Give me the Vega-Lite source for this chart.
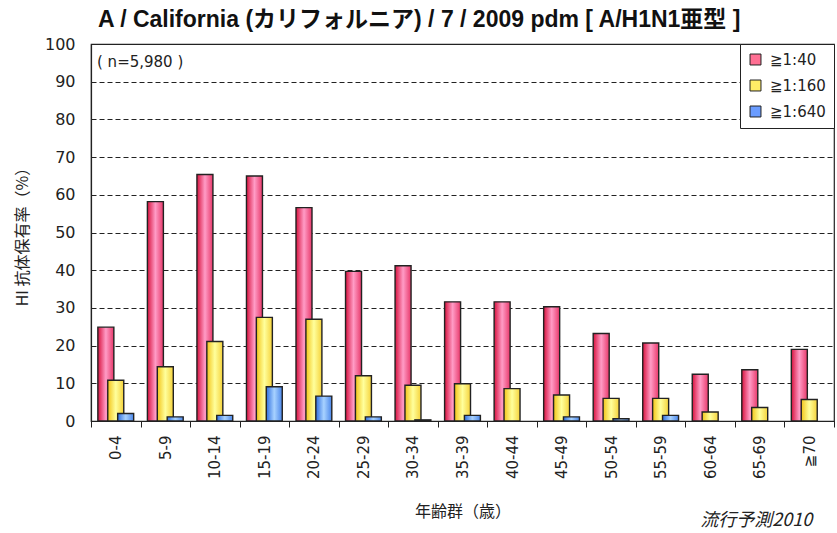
{
  "$schema": "https://vega.github.io/schema/vega-lite/v6.json",
  "width": 743,
  "height": 377,
  "autosize": "none",
  "padding": {"left": 91, "top": 44, "right": 3, "bottom": 112},
  "background": "white",
  "title": {
    "text": "A / California (カリフォルニア) / 7 / 2009 pdm [ A/H1N1亜型 ]",
    "anchor": "start",
    "frame": "group",
    "font": "'Liberation Sans', 'Noto Sans CJK JP'",
    "fontSize": 23,
    "fontWeight": "bold",
    "color": "#111",
    "dx": 7,
    "offset": 4
  },
  "config": {
    "view": {"stroke": "#222", "strokeWidth": 1.2},
    "font": "Noto Sans CJK JP",
    "axis": {
      "labelFont": "DejaVu Sans",
      "titleFont": "Noto Sans CJK JP",
      "labelColor": "#222",
      "titleColor": "#222",
      "domainColor": "#222",
      "tickColor": "#222",
      "titleFontWeight": "normal"
    },
    "axisX": {
      "titleFontSize": 16,
      "titlePadding": 25,
      "labelAngle": -90,
      "labelFontSize": 15,
      "labelPadding": 8,
      "tickBand": "extent",
      "tickSize": 6,
      "domainWidth": 1.2,
      "grid": false
    },
    "axisY": {
      "titleFontSize": 16,
      "titlePadding": 14,
      "labelFontSize": 16,
      "labelPadding": 16,
      "ticks": false,
      "grid": true,
      "gridColor": "#222",
      "gridDash": [5, 3],
      "gridWidth": 1.2,
      "domainWidth": 1.2
    }
  },
  "data": {
    "values": [
      {"age": "0-4", "series": "≧1:40", "value": 24.9},
      {"age": "0-4", "series": "≧1:160", "value": 10.8},
      {"age": "0-4", "series": "≧1:640", "value": 2.0},
      {"age": "5-9", "series": "≧1:40", "value": 58.2},
      {"age": "5-9", "series": "≧1:160", "value": 14.4},
      {"age": "5-9", "series": "≧1:640", "value": 1.1},
      {"age": "10-14", "series": "≧1:40", "value": 65.4},
      {"age": "10-14", "series": "≧1:160", "value": 21.1},
      {"age": "10-14", "series": "≧1:640", "value": 1.5},
      {"age": "15-19", "series": "≧1:40", "value": 65.0},
      {"age": "15-19", "series": "≧1:160", "value": 27.5},
      {"age": "15-19", "series": "≧1:640", "value": 9.1},
      {"age": "20-24", "series": "≧1:40", "value": 56.6},
      {"age": "20-24", "series": "≧1:160", "value": 27.0},
      {"age": "20-24", "series": "≧1:640", "value": 6.6},
      {"age": "25-29", "series": "≧1:40", "value": 39.7},
      {"age": "25-29", "series": "≧1:160", "value": 12.0},
      {"age": "25-29", "series": "≧1:640", "value": 1.1},
      {"age": "30-34", "series": "≧1:40", "value": 41.2},
      {"age": "30-34", "series": "≧1:160", "value": 9.5},
      {"age": "30-34", "series": "≧1:640", "value": 0.3},
      {"age": "35-39", "series": "≧1:40", "value": 31.6},
      {"age": "35-39", "series": "≧1:160", "value": 9.9},
      {"age": "35-39", "series": "≧1:640", "value": 1.5},
      {"age": "40-44", "series": "≧1:40", "value": 31.6},
      {"age": "40-44", "series": "≧1:160", "value": 8.6},
      {"age": "45-49", "series": "≧1:40", "value": 30.3},
      {"age": "45-49", "series": "≧1:160", "value": 6.9},
      {"age": "45-49", "series": "≧1:640", "value": 1.1},
      {"age": "50-54", "series": "≧1:40", "value": 23.2},
      {"age": "50-54", "series": "≧1:160", "value": 6.0},
      {"age": "50-54", "series": "≧1:640", "value": 0.6},
      {"age": "55-59", "series": "≧1:40", "value": 20.7},
      {"age": "55-59", "series": "≧1:160", "value": 6.0},
      {"age": "55-59", "series": "≧1:640", "value": 1.5},
      {"age": "60-64", "series": "≧1:40", "value": 12.4},
      {"age": "60-64", "series": "≧1:160", "value": 2.4},
      {"age": "65-69", "series": "≧1:40", "value": 13.6},
      {"age": "65-69", "series": "≧1:160", "value": 3.6},
      {"age": "≧70", "series": "≧1:40", "value": 19.0},
      {"age": "≧70", "series": "≧1:160", "value": 5.7}
    ]
  },
  "layer": [
    {
      "transform": [{"filter": "datum.series === '≧1:40'"}],
      "mark": {
        "type": "bar",
        "width": 16,
        "stroke": "#222",
        "strokeWidth": 1.4,
        "fill": {"gradient": "linear", "x1": 0, "y1": 0, "x2": 1, "y2": 0,
          "stops": [{"offset": 0, "color": "#d8123e"}, {"offset": 0.5, "color": "#ff9cc6"}, {"offset": 1, "color": "#e8386a"}]}
      },
      "encoding": {
        "x": {"field": "age", "type": "nominal",
          "sort": ["0-4","5-9","10-14","15-19","20-24","25-29","30-34","35-39","40-44","45-49","50-54","55-59","60-64","65-69","≧70"],
          "scale": {"paddingInner": 0, "paddingOuter": 0},
          "title": "年齢群（歳）"},
        "y": {"field": "value", "type": "quantitative",
          "scale": {"domain": [0, 100], "nice": false},
          "axis": {"values": [0,10,20,30,40,50,60,70,80,90,100]},
          "title": "HI 抗体保有率（%）"},
        "xOffset": {"field": "series", "type": "nominal",
          "scale": {"domain": ["≧1:40", "≧1:160", "≧1:640"], "paddingInner": 0, "paddingOuter": 1.15}}
      }
    },
    {
      "transform": [{"filter": "datum.series === '≧1:160'"}],
      "mark": {
        "type": "bar",
        "width": 16,
        "stroke": "#222",
        "strokeWidth": 1.4,
        "fill": {"gradient": "linear", "x1": 0, "y1": 0, "x2": 1, "y2": 0,
          "stops": [{"offset": 0, "color": "#f2c418"}, {"offset": 0.5, "color": "#ffff9c"}, {"offset": 1, "color": "#f5d23a"}]}
      },
      "encoding": {
        "x": {"field": "age", "type": "nominal",
          "sort": ["0-4","5-9","10-14","15-19","20-24","25-29","30-34","35-39","40-44","45-49","50-54","55-59","60-64","65-69","≧70"],
          "title": "年齢群（歳）"},
        "y": {"field": "value", "type": "quantitative",
          "axis": {"values": [0,10,20,30,40,50,60,70,80,90,100]},
          "title": "HI 抗体保有率（%）"},
        "xOffset": {"field": "series", "type": "nominal"}
      }
    },
    {
      "transform": [{"filter": "datum.series === '≧1:640'"}],
      "mark": {
        "type": "bar",
        "width": 16,
        "stroke": "#222",
        "strokeWidth": 1.4,
        "fill": {"gradient": "linear", "x1": 0, "y1": 0, "x2": 1, "y2": 0,
          "stops": [{"offset": 0, "color": "#2f6fe0"}, {"offset": 0.5, "color": "#a8d2ff"}, {"offset": 1, "color": "#4a86ea"}]}
      },
      "encoding": {
        "x": {"field": "age", "type": "nominal",
          "sort": ["0-4","5-9","10-14","15-19","20-24","25-29","30-34","35-39","40-44","45-49","50-54","55-59","60-64","65-69","≧70"],
          "title": "年齢群（歳）"},
        "y": {"field": "value", "type": "quantitative",
          "axis": {"values": [0,10,20,30,40,50,60,70,80,90,100]},
          "title": "HI 抗体保有率（%）"},
        "xOffset": {"field": "series", "type": "nominal"}
      }
    },
    {
      "mark": {"type": "point", "shape": "square", "filled": true, "opacity": 0},
      "encoding": {
        "x": {"field": "age", "type": "nominal",
          "sort": ["0-4","5-9","10-14","15-19","20-24","25-29","30-34","35-39","40-44","45-49","50-54","55-59","60-64","65-69","≧70"],
          "title": "年齢群（歳）"},
        "y": {"field": "value", "type": "quantitative",
          "axis": {"values": [0,10,20,30,40,50,60,70,80,90,100]},
          "title": "HI 抗体保有率（%）"},
        "color": {
          "field": "series",
          "type": "nominal",
          "scale": {"domain": ["≧1:40", "≧1:160", "≧1:640"], "range": ["#ff6f93", "#ffec66", "#6a9cff"]},
          "legend": {
            "title": null,
            "orient": "top-right",
            "offset": 0,
            "fillColor": "white",
            "strokeColor": "#222",
            "padding": 8,
            "rowPadding": 10,
            "labelOffset": 7,
            "symbolType": "square",
            "symbolSize": 120,
            "symbolOpacity": 1,
            "symbolFillOpacity": 1,
            "symbolStrokeColor": "#222",
            "symbolStrokeWidth": 1,
            "labelFont": "DejaVu Sans",
            "labelFontSize": 15,
            "labelColor": "#222"
          }
        }
      }
    },
    {
      "data": {"values": [{"label": "( n=5,980 )"}]},
      "mark": {"type": "text", "align": "left", "baseline": "middle", "dx": 6, "fontSize": 15, "color": "#222", "font": "DejaVu Sans"},
      "encoding": {
        "x": {"datum": "0-4", "type": "nominal", "bandPosition": 0, "title": "年齢群（歳）"},
        "y": {"datum": 95.2, "type": "quantitative",
          "axis": {"values": [0,10,20,30,40,50,60,70,80,90,100]},
          "title": "HI 抗体保有率（%）"},
        "text": {"field": "label"}
      }
    },
    {
      "data": {"values": [{"label": "流行予測2010"}]},
      "mark": {"type": "text", "align": "center", "baseline": "middle", "dx": -53, "fontSize": 18, "fontStyle": "italic", "color": "#222", "font": "Noto Sans CJK JP"},
      "encoding": {
        "x": {"datum": "≧70", "type": "nominal", "title": "年齢群（歳）"},
        "y": {"datum": -26.5, "type": "quantitative",
          "axis": {"values": [0,10,20,30,40,50,60,70,80,90,100]},
          "title": "HI 抗体保有率（%）"},
        "text": {"field": "label"}
      }
    }
  ]
}
